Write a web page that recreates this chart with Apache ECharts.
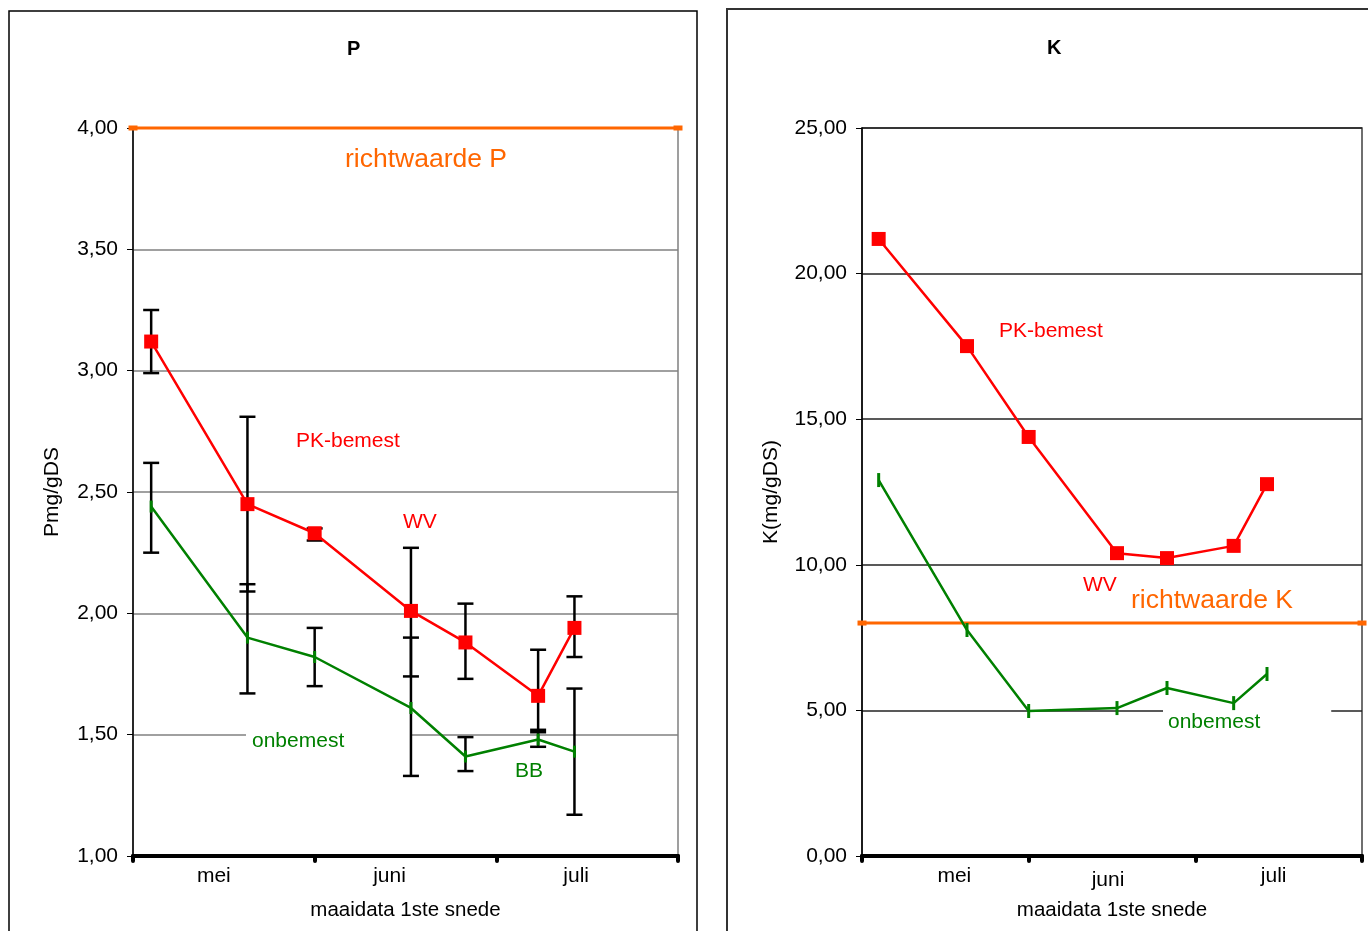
<!DOCTYPE html>
<html>
<head>
<meta charset="utf-8">
<script src="https://cdn.jsdelivr.net/npm/echarts@6/dist/echarts.min.js"></script>
<style>
html,body{margin:0;padding:0;background:#fff;}
#chart{width:1368px;height:931px;}
</style>
</head>
<body>
<div id="chart"></div>
<script>
// ---- data ----
const xTickLabels = ['mei', 'juni', 'juli'];
// sampling dates as month positions (0 = start of mei, 1 = start of juni, ...)
const samplingDates = [0.10, 0.63, 1.00, 1.53, 1.83, 2.23, 2.43];

const pPK      = [3.12, 2.45, 2.33, 2.01, 1.88, 1.66, 1.94];
const pPKLow   = [2.99, 2.09, 2.30, 1.74, 1.73, 1.52, 1.82];
const pPKHigh  = [3.25, 2.81, 2.35, 2.27, 2.04, 1.85, 2.07];
const pOnb     = [2.44, 1.90, 1.82, 1.61, 1.41, 1.48, 1.43];
const pOnbLow  = [2.25, 1.67, 1.70, 1.33, 1.35, 1.45, 1.17];
const pOnbHigh = [2.62, 2.12, 1.94, 1.90, 1.49, 1.51, 1.69];

const kPK  = [21.19, 17.51, 14.39, 10.40, 10.23, 10.65, 12.77];
const kOnb = [12.91, 7.76, 4.98, 5.08, 5.77, 5.25, 6.25];

const refP = 4.0;
const refK = 8.0;

// ---- build ----
const FONT = '"Liberation Sans", Arial, sans-serif';
const FS = 21;
const RED = '#FF0000', GREEN = '#008000', ORANGE = '#FF6600';
const pair = (xs, ys) => xs.map((x, i) => [x, ys[i]]);
const bars = (xs, lo, hi) => xs.map((x, i) => [x, lo[i], hi[i]]);
const fmt = v => v.toFixed(2).replace('.', ',');

function errorRender(params, api) {
  const x = api.value(0);
  const a = api.coord([x, api.value(1)]);
  const b = api.coord([x, api.value(2)]);
  const hw = 8;
  const st = {stroke: '#000', lineWidth: 2.5};
  return {
    type: 'group',
    children: [
      {type: 'line', shape: {x1: a[0], y1: a[1], x2: b[0], y2: b[1]}, style: st},
      {type: 'line', shape: {x1: a[0] - hw, y1: a[1], x2: a[0] + hw, y2: a[1]}, style: st},
      {type: 'line', shape: {x1: b[0] - hw, y1: b[1], x2: b[0] + hw, y2: b[1]}, style: st}
    ]
  };
}

function valueX(gridIndex, name) {
  return {
    type: 'value', gridIndex, min: 0, max: 3, interval: 1, position: 'bottom',
    axisLine: {show: true, lineStyle: {color: '#000', width: 4}},
    axisTick: {show: true, length: 5, lineStyle: {color: '#000', width: 4, cap: 'round'}},
    axisLabel: {show: false}, splitLine: {show: false},
    name, nameLocation: 'middle', nameGap: 44,
    nameTextStyle: {fontFamily: FONT, fontSize: 20.5, color: '#000'}
  };
}
// label nudges (style only): [left, right, top] padding per label
function catX(gridIndex, pads) {
  const rich = {};
  pads.forEach((p, i) => {
    rich['l' + i] = {fontFamily: FONT, fontSize: FS, color: '#000', padding: [p[2] || 0, p[1], 0, p[0]]};
  });
  return {
    type: 'category', gridIndex, data: xTickLabels, boundaryGap: true, position: 'bottom',
    axisLine: {show: false}, axisTick: {show: false}, splitLine: {show: false},
    axisLabel: {margin: 10, formatter: (v, i) => '{l' + i + '|' + v + '}', rich}
  };
}
function valueY(gridIndex, min, max, interval, name, splitColor, nameGap) {
  return {
    type: 'value', gridIndex, min, max, interval,
    axisLine: {show: true, lineStyle: {color: '#000', width: 1.5}},
    axisTick: {show: true, length: 6, lineStyle: {color: '#000', width: 1}},
    axisLabel: {fontFamily: FONT, fontSize: FS, color: '#000', margin: 15, formatter: fmt},
    splitLine: {show: true, lineStyle: {color: splitColor, width: 1.5}},
    name, nameLocation: 'middle', nameGap, nameRotate: 90,
    nameTextStyle: {fontFamily: FONT, fontSize: FS, color: '#000'}
  };
}
function txt(text, x, y, color, size, extra) {
  return {
    type: 'text', x, y, z: 1,
    style: Object.assign({text, fill: color, fontFamily: FONT, fontSize: size, verticalAlign: 'middle', align: 'left'}, extra || {})
  };
}

const option = {
  animation: false,
  backgroundColor: '#fff',
  title: [
    {text: 'P', left: 347, top: 39, padding: 0, textStyle: {fontFamily: FONT, fontSize: 20, fontWeight: 'bold', color: '#000'}},
    {text: 'K', left: 1047, top: 38, padding: 0, textStyle: {fontFamily: FONT, fontSize: 20, fontWeight: 'bold', color: '#000'}}
  ],
  grid: [
    {left: 133, top: 128, width: 545, height: 728, show: true, borderColor: '#808080', borderWidth: 1.5, backgroundColor: 'transparent'},
    {left: 862, top: 128, width: 500, height: 728, show: true, borderColor: '#404040', borderWidth: 1.5, backgroundColor: 'transparent'}
  ],
  xAxis: [
    valueX(0, 'maaidata 1ste snede'),
    catX(0, [[0, 20], [0, 32], [0, 22]]),
    valueX(1, 'maaidata 1ste snede'),
    catX(1, [[18, 0], [0, 8, 4], [0, 10]])
  ],
  yAxis: [
    valueY(0, 1, 4, 0.5, 'Pmg/gDS', '#808080', 70),
    valueY(1, 0, 25, 5, 'K(mg/gDS)', '#222', 80)
  ],
  graphic: [
    {type: 'rect', z: -1, shape: {x: 9, y: 11, width: 688, height: 960}, style: {fill: 'none', stroke: '#000', lineWidth: 1.5}},
    {type: 'rect', z: -1, shape: {x: 727, y: 9, width: 700, height: 960}, style: {fill: 'none', stroke: '#333', lineWidth: 2}},
    txt('richtwaarde P', 345, 160, ORANGE, 26.5),
    txt('PK-bemest', 296, 441, RED, FS),
    txt('WV', 403, 522, RED, FS),
    txt('onbemest', 246, 741, GREEN, FS, {backgroundColor: '#fff', padding: [3, 67, 3, 6]}),
    txt('BB', 515, 771, GREEN, FS),
    txt('PK-bemest', 999, 331, RED, FS),
    txt('WV', 1083, 585, RED, FS),
    txt('richtwaarde K', 1131, 601, ORANGE, 26.5),
    txt('onbemest', 1163, 722, GREEN, FS, {backgroundColor: '#fff', padding: [3, 71, 3, 5]})
  ],
  series: [
    // P chart
    {type: 'custom', xAxisIndex: 0, yAxisIndex: 0, z: 2, renderItem: errorRender, data: bars(samplingDates, pPKLow, pPKHigh), clip: false},
    {type: 'custom', xAxisIndex: 0, yAxisIndex: 0, z: 2, renderItem: errorRender, data: bars(samplingDates, pOnbLow, pOnbHigh), clip: false},
    {type: 'line', xAxisIndex: 0, yAxisIndex: 0, z: 3, data: [[0, refP], [3, refP]], symbol: 'rect', symbolSize: [9, 5], clip: false,
      lineStyle: {color: ORANGE, width: 3}, itemStyle: {color: ORANGE}},
    {type: 'line', xAxisIndex: 0, yAxisIndex: 0, z: 4, data: pair(samplingDates, pOnb), symbol: 'rect', symbolSize: [3, 12],
      lineStyle: {color: GREEN, width: 2.5}, itemStyle: {color: GREEN}},
    {type: 'line', xAxisIndex: 0, yAxisIndex: 0, z: 5, data: pair(samplingDates, pPK), symbol: 'rect', symbolSize: 14,
      lineStyle: {color: RED, width: 2.5}, itemStyle: {color: RED}},
    // K chart
    {type: 'line', xAxisIndex: 2, yAxisIndex: 1, z: 3, data: [[0, refK], [3, refK]], symbol: 'rect', symbolSize: [9, 5], clip: false,
      lineStyle: {color: ORANGE, width: 3}, itemStyle: {color: ORANGE}},
    {type: 'line', xAxisIndex: 2, yAxisIndex: 1, z: 4, data: pair(samplingDates, kOnb), symbol: 'rect', symbolSize: [3, 14],
      lineStyle: {color: GREEN, width: 2.5}, itemStyle: {color: GREEN}},
    {type: 'line', xAxisIndex: 2, yAxisIndex: 1, z: 5, data: pair(samplingDates, kPK), symbol: 'rect', symbolSize: 14,
      lineStyle: {color: RED, width: 2.5}, itemStyle: {color: RED}}
  ]
};

const chart = echarts.init(document.getElementById('chart'), null, {renderer: 'canvas'});
chart.setOption(option);
</script>
</body>
</html>
